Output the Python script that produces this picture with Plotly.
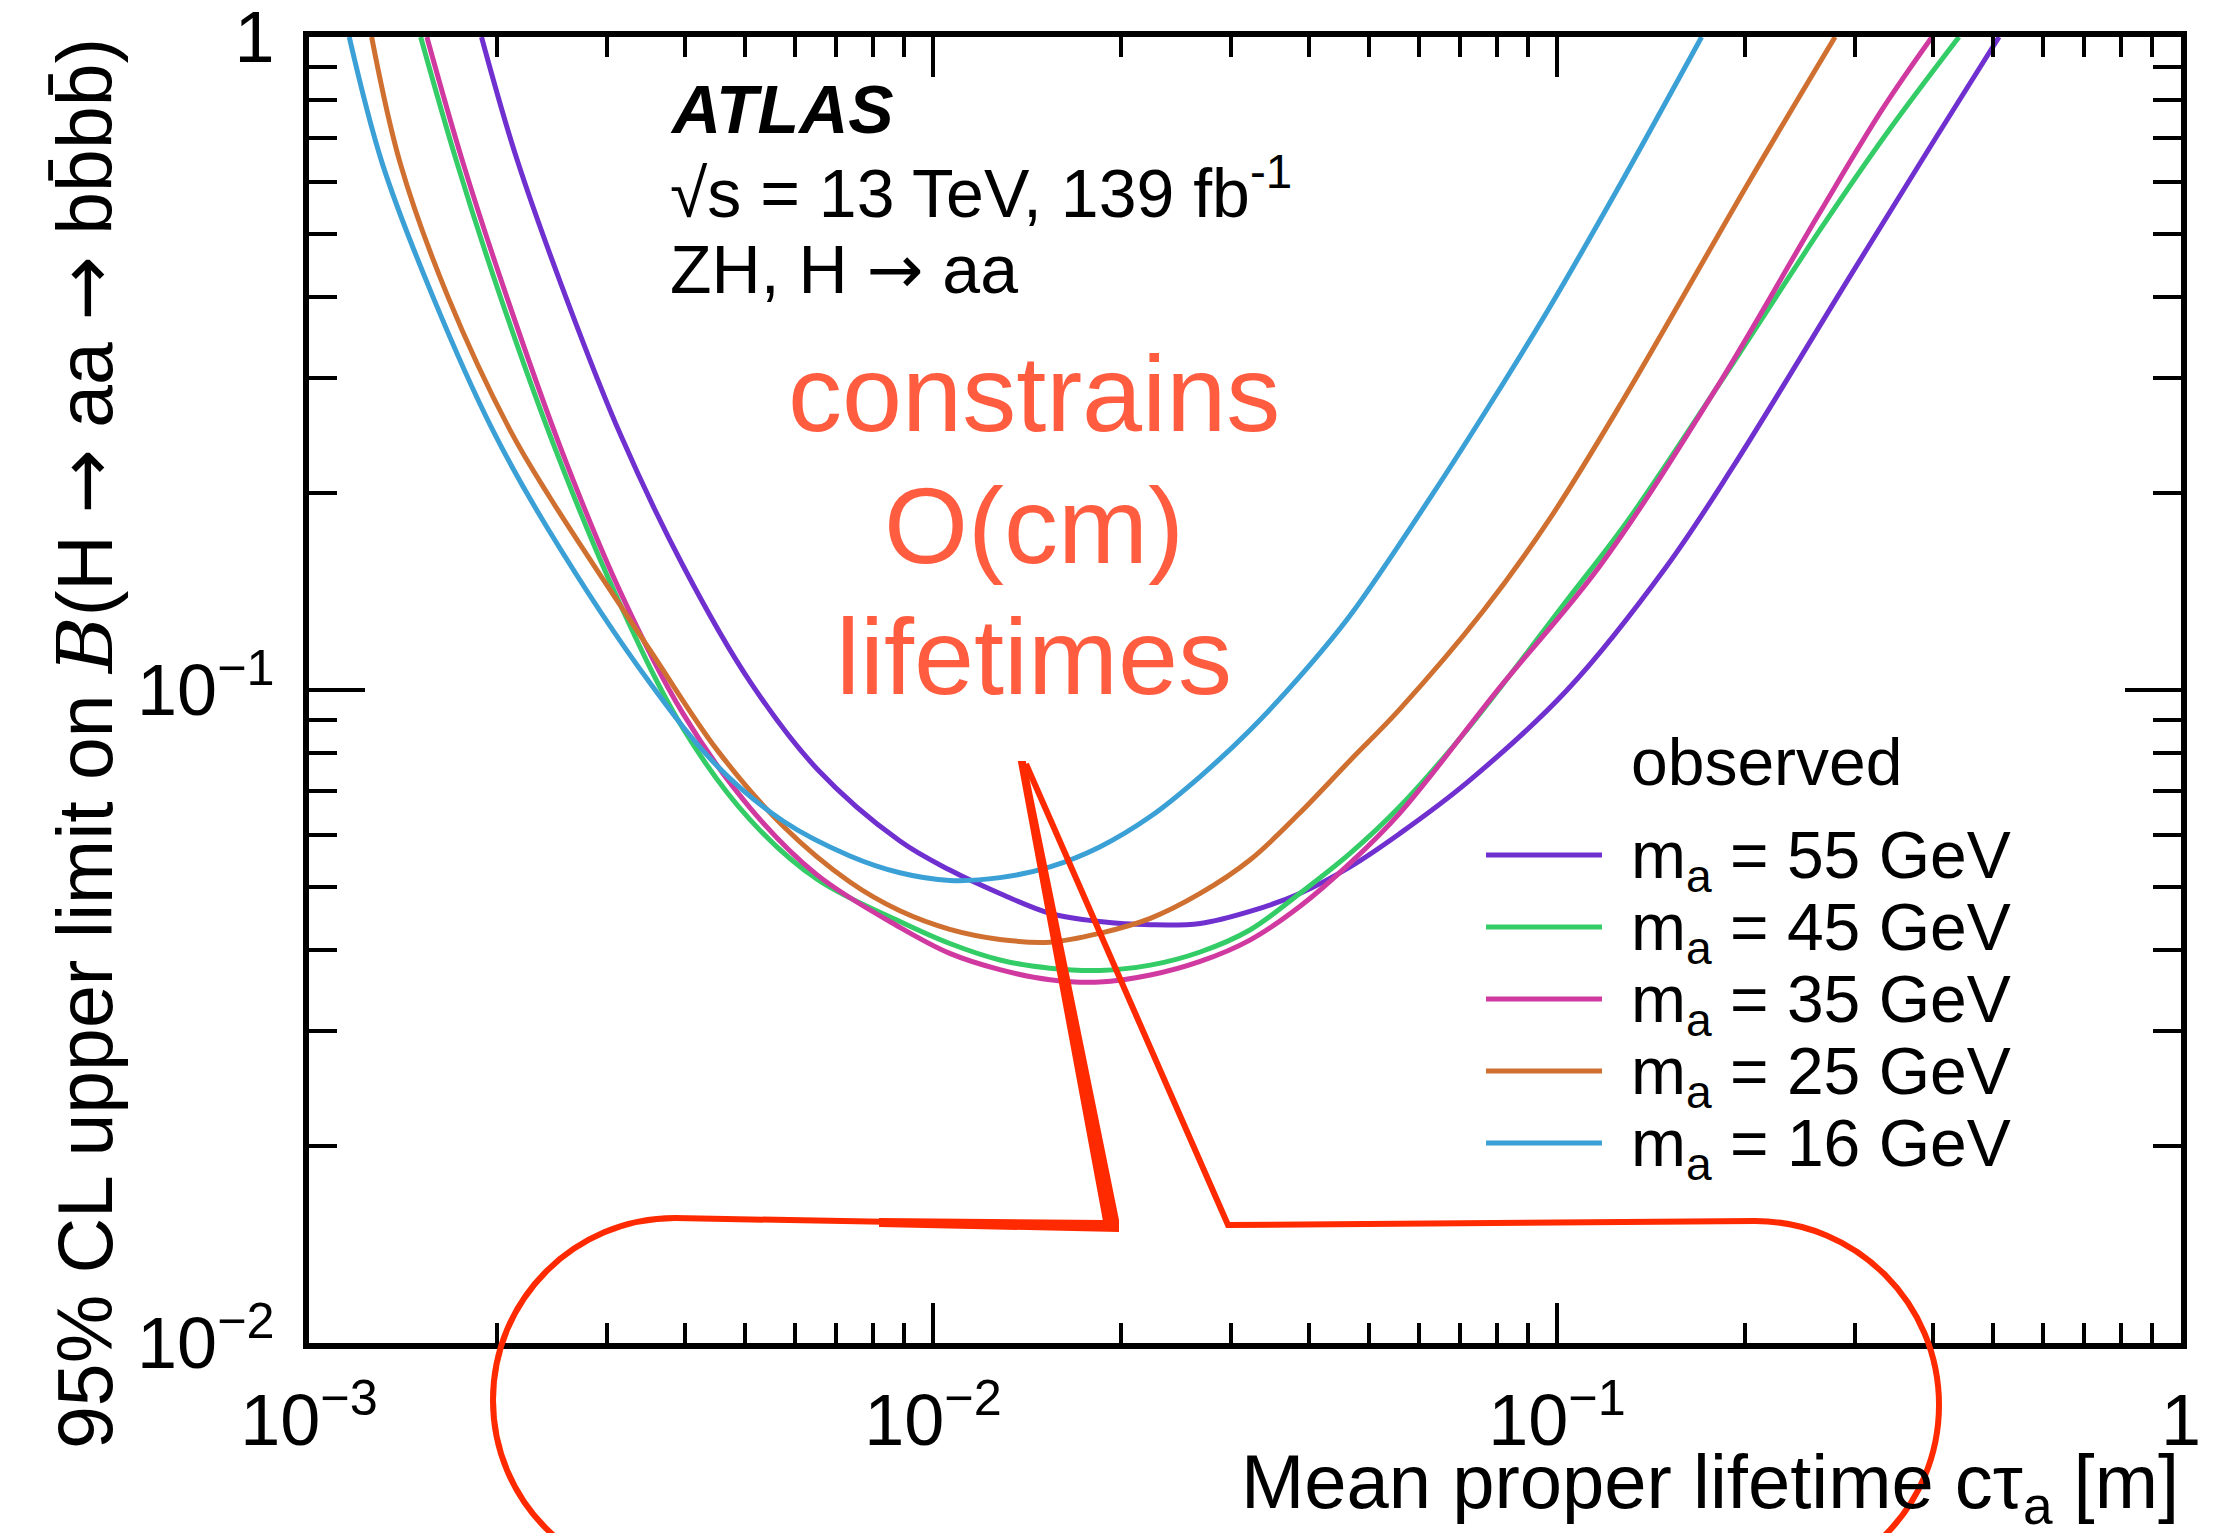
import plotly.graph_objects as go

# ---------------- data ----------------
series_labels = ["m<sub>a</sub> = 55 GeV", "m<sub>a</sub> = 45 GeV", "m<sub>a</sub> = 35 GeV",
                 "m<sub>a</sub> = 25 GeV", "m<sub>a</sub> = 16 GeV"]
series_colors = ["#7030D0", "#33CC66", "#D03AA0", "#D07030", "#3AA0D6"]

ctau_55 = [1.89e-3, 2.147e-3, 2.582e-3, 3.162e-3, 3.976e-3, 5.09e-3, 6.52e-3, 8.85e-3, 1.064e-2, 1.28e-2,
           1.54e-2, 1.85e-2, 2.23e-2, 2.68e-2, 3.22e-2, 3.87e-2, 4.66e-2, 5.60e-2, 7.18e-2, 0.1038,
           0.1501, 0.1914, 0.2948, 0.4005, 0.511]
limit_55 = [1.0, 0.656, 0.399, 0.245, 0.155, 0.103, 0.0757, 0.0587, 0.0530, 0.0488,
            0.0455, 0.0442, 0.0437, 0.0439, 0.0458, 0.0488, 0.0536, 0.0603, 0.0722, 0.1000,
            0.155, 0.2196, 0.430, 0.690, 1.0]

ctau_45 = [1.51e-3, 1.727e-3, 2.023e-3, 2.488e-3, 3.105e-3, 3.976e-3, 5.09e-3, 6.52e-3, 8.85e-3, 1.064e-2,
           1.28e-2, 1.54e-2, 1.85e-2, 2.23e-2, 2.68e-2, 3.22e-2, 3.87e-2, 4.66e-2, 5.60e-2, 7.18e-2,
           0.1038, 0.1295, 0.1825, 0.2639, 0.3379, 0.4407]
limit_45 = [1.0, 0.641, 0.402, 0.2324, 0.1396, 0.0873, 0.0633, 0.0513, 0.0442, 0.0409,
            0.0386, 0.0375, 0.0372, 0.0379, 0.0397, 0.0429, 0.0488, 0.0562, 0.0663, 0.0870,
            0.1373, 0.1810, 0.2953, 0.5064, 0.7128, 1.0]

ctau_35 = [1.545e-3, 1.766e-3, 2.084e-3, 2.543e-3, 3.162e-3, 3.976e-3, 5.09e-3, 6.52e-3, 8.85e-3, 1.064e-2,
           1.28e-2, 1.54e-2, 1.85e-2, 2.23e-2, 2.68e-2, 3.22e-2, 3.87e-2, 4.66e-2, 5.60e-2, 8.11e-2,
           0.1172, 0.1805, 0.2611, 0.333, 0.399]
limit_35 = [1.0, 0.641, 0.395, 0.232, 0.1406, 0.092, 0.066, 0.0521, 0.0433, 0.0395,
            0.0373, 0.0360, 0.0357, 0.0366, 0.0384, 0.0414, 0.0466, 0.0543, 0.0648, 0.1011,
            0.155, 0.291, 0.530, 0.778, 1.0]

ctau_25 = [1.26e-3, 1.40e-3, 1.67e-3, 2.10e-3, 2.43e-3, 3.52e-3, 4.51e-3, 5.75e-3, 7.36e-3, 8.85e-3,
           1.064e-2, 1.28e-2, 1.54e-2, 1.85e-2, 2.23e-2, 2.68e-2, 3.22e-2, 3.87e-2, 4.66e-2, 5.60e-2,
           7.61e-2, 9.74e-2, 0.1276, 0.2039, 0.279]
limit_25 = [1.0, 0.641, 0.400, 0.250, 0.1975, 0.1151, 0.0809, 0.0619, 0.0508, 0.0459,
            0.0430, 0.0415, 0.0411, 0.0424, 0.0447, 0.0488, 0.0549, 0.0648, 0.0780, 0.0935,
            0.1320, 0.1830, 0.278, 0.604, 1.0]

ctau_16 = [1.16e-3, 1.31e-3, 1.58e-3, 1.97e-3, 2.42e-3, 3.52e-3, 4.51e-3, 5.75e-3, 7.36e-3, 8.85e-3,
           1.064e-2, 1.28e-2, 1.54e-2, 1.85e-2, 2.23e-2, 2.68e-2, 3.22e-2, 3.87e-2, 4.66e-2, 6.33e-2,
           7.89e-2, 9.74e-2, 0.1248, 0.1705]
limit_16 = [1.0, 0.641, 0.400, 0.250, 0.176, 0.1025, 0.0765, 0.0630, 0.0557, 0.0525,
            0.0511, 0.0516, 0.0536, 0.0575, 0.0640, 0.0737, 0.0868, 0.1048, 0.1300, 0.2000,
            0.278, 0.386, 0.583, 1.0]

series_x = [ctau_55, ctau_45, ctau_35, ctau_25, ctau_16]
series_y = [limit_55, limit_45, limit_35, limit_25, limit_16]

x_tick_vals = [1e-3, 1e-2, 1e-1, 1]
x_tick_text = ["10<sup>\u22123</sup>", "10<sup>\u22122</sup>", "10<sup>\u22121</sup>", "1"]
y_tick_vals = [1e-2, 1e-1, 1]
y_tick_text = ["10<sup>\u22122</sup>", "10<sup>\u22121</sup>", "1"]
x_minor_vals = [m * 10.0 ** e for e in (-3, -2, -1) for m in range(2, 10)]
y_minor_vals = [m * 10.0 ** e for e in (-2, -1) for m in range(2, 10)]

ARROW = "<span style=\"font-family:DejaVu Sans\">\u2192</span>"
x_title = "Mean proper lifetime c\u03c4<sub>a</sub> [m]"
y_title = ("95% CL upper limit on <span style=\"font-family:DejaVu Serif\"><i>B</i></span>"
           "(H " + ARROW + " aa " + ARROW + " bb\u0304bb\u0304)")
header_lines = ["<b><i>ATLAS</i></b>", "\u221as = 13 TeV, 139 fb<sup>-1</sup>", "ZH, H " + ARROW + " aa"]
legend_title = "observed"
callout_lines = ["constrains", "O(cm)", "lifetimes"]

# ---------------- layout geometry ----------------
W, H = 2225, 1533
ML, MR, MT, MB = 309, 44, 37, 190
PX0, PX1, PY0, PY1 = ML, W - MR, MT, H - MB
FONT = "Liberation Sans, Arial, Helvetica, sans-serif"


def pp(x, y):
    """pixel position -> paper coordinates"""
    return (x - PX0) / (PX1 - PX0), (PY1 - y) / (PY1 - PY0)


fig = go.Figure()
for xs, ys, name, color in zip(series_x, series_y, series_labels, series_colors):
    fig.add_trace(go.Scatter(x=xs, y=ys, mode="lines", name=name, showlegend=False,
                             line=dict(color=color, width=5, shape="spline", smoothing=1.0)))

axis_common = dict(type="log", ticks="inside", tickwidth=4, tickcolor="black", showline=True,
                   linecolor="black", linewidth=6, mirror="ticks", showgrid=False, zeroline=False,
                   tickmode="array", ticklabeloverflow="allow", automargin=False,
                   tickfont=dict(family=FONT, size=72, color="black"))
fig.update_xaxes(range=[-3, 0], tickvals=x_tick_vals, ticktext=x_tick_text, ticklen=40,
                 ticklabelstandoff=10,
                 minor=dict(tickmode="array", tickvals=x_minor_vals, ticks="inside", ticklen=20,
                            tickwidth=4, tickcolor="black", showgrid=False),
                 **axis_common)
fig.update_yaxes(range=[-2, 0], tickvals=y_tick_vals, ticktext=y_tick_text, ticklen=56,
                 ticklabelstandoff=14,
                 minor=dict(tickmode="array", tickvals=y_minor_vals, ticks="inside", ticklen=28,
                            tickwidth=4, tickcolor="black", showgrid=False),
                 **axis_common)

annotations = []
# axis titles
ax, ay = pp(2181, 1487)
annotations.append(dict(x=ax, y=ay, xref="paper", yref="paper", text=x_title, showarrow=False,
                        xanchor="right", yanchor="middle", font=dict(family=FONT, size=76, color="black")))
ax, ay = pp(85, 744)
annotations.append(dict(x=ax, y=ay, xref="paper", yref="paper", text=y_title, showarrow=False,
                        textangle=-90, xanchor="center", yanchor="middle",
                        font=dict(family=FONT, size=77, color="black")))
# header
for txt, ypx in zip(header_lines, [109, 188, 270]):
    ax, ay = pp(668, ypx)
    annotations.append(dict(x=ax, y=ay, xref="paper", yref="paper", text=txt, showarrow=False,
                            xanchor="left", yanchor="middle", font=dict(family=FONT, size=68, color="black")))
# red callout text
for txt, ypx in zip(callout_lines, [394, 525, 656]):
    ax, ay = pp(1034, ypx)
    annotations.append(dict(x=ax, y=ay, xref="paper", yref="paper", text=txt, showarrow=False,
                            xanchor="center", yanchor="middle", font=dict(family=FONT, size=108, color="#FF5C40")))
# legend (drawn by hand, long line samples like the reference)
ax, ay = pp(1629, 762)
annotations.append(dict(x=ax, y=ay, xref="paper", yref="paper", text=legend_title, showarrow=False,
                        xanchor="left", yanchor="middle", font=dict(family=FONT, size=66, color="black")))
shapes = []
row_y = [855, 927, 999, 1071, 1143]
for name, color, ypx in zip(series_labels, series_colors, row_y):
    x0, y0 = pp(1486, ypx)
    x1, _ = pp(1602, ypx)
    shapes.append(dict(type="line", xref="paper", yref="paper", x0=x0, x1=x1, y0=y0, y1=y0,
                       line=dict(color=color, width=5)))
    ax, ay = pp(1629, ypx + 5)
    annotations.append(dict(x=ax, y=ay, xref="paper", yref="paper", text=name, showarrow=False,
                            xanchor="left", yanchor="middle", font=dict(family=FONT, size=66, color="black")))


# hand-drawn speech-bubble callout (decoration, in paper coordinates)
def P(x, y):
    a, b = pp(x, y)
    return f"{a:.5f},{b:.5f}"


RED = "#FF2A00"
k = 0.5523
rl, cxl, cyl = 182, 675, 1400
rr, cxr, cyr = 184, 1755, 1405
path = (f"M {P(1111, 1226)} L {P(cxl, 1218)} "
        f"C {P(cxl - k * rl, cyl - rl)} {P(cxl - rl, cyl - k * rl)} {P(cxl - rl, cyl)} "
        f"C {P(cxl - rl, cyl + k * rl)} {P(cxl - k * rl, cyl + rl)} {P(cxl, cyl + rl)} "
        f"L {P(cxr, cyr + rr)} "
        f"C {P(cxr + k * rr, cyr + rr)} {P(cxr + rr, cyr + k * rr)} {P(cxr + rr, cyr)} "
        f"C {P(cxr + rr, cyr - k * rr)} {P(cxr + k * rr, cyr - rr)} {P(cxr, cyr - rr)} "
        f"L {P(1228, 1225)} L {P(1026, 764)}")
shapes.append(dict(type="path", xref="paper", yref="paper", path=path, layer="above",
                   line=dict(color=RED, width=6)))
# thick tapered left side of the pointer and the start of the top edge
shapes.append(dict(type="path", xref="paper", yref="paper", layer="above",
                   path=f"M {P(1019, 762)} L {P(1025, 762)} L {P(1118, 1220)} L {P(1118, 1231)} "
                        f"L {P(880, 1226)} L {P(880, 1219)} L {P(1104, 1221)} Z",
                   fillcolor=RED, line=dict(color=RED, width=2)))

fig.update_layout(width=W, height=H, margin=dict(l=ML, r=MR, t=MT, b=MB, pad=0, autoexpand=False),
                  paper_bgcolor="white", plot_bgcolor="white", showlegend=False,
                  annotations=annotations, shapes=shapes,
                  font=dict(family=FONT, color="black"))

fig.write_html("out.html", config={"displayModeBar": False},
               post_script="document.body.style.margin='0';document.body.style.overflow='hidden';")
